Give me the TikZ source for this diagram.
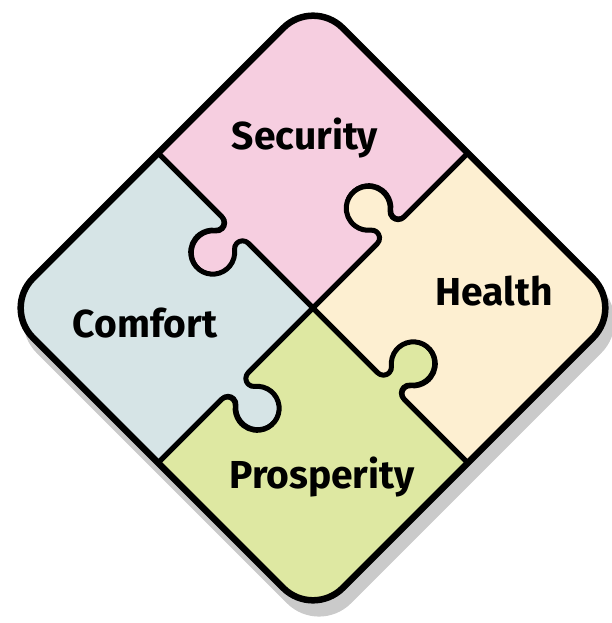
\documentclass[tikz,border=0pt]{standalone}
\usepackage{fontspec}
\setmainfont{Fira Sans}
\definecolor{securityPink}{HTML}{F6CEE0}
\definecolor{comfortBlue}{HTML}{D6E4E6}
\definecolor{prosperityGreen}{HTML}{DEE8A2}
\definecolor{healthCream}{HTML}{FDEFD1}
\definecolor{shadowGray}{HTML}{CACACA}
% one quarter of the square, the (+,+) quadrant before turning by 45 degrees
\newcommand{\piecepath}{(0,0) -- (91.7,0)
  arc[start angle=-90, end angle=51.4, radius=8pt]
  arc[start angle=231.4, end angle=-51.4, radius=22pt]
  arc[start angle=128.6, end angle=270, radius=8pt]
  -- (219,0) -- (219,177) arc[start angle=0, end angle=90, radius=42pt] -- (0,219)
  -- (0,128.3)
  arc[start angle=360, end angle=218.6, radius=8pt]
  arc[start angle=38.6, end angle=321.4, radius=22pt]
  arc[start angle=141.4, end angle=0, radius=8pt]
  -- cycle}
\begin{document}
\begin{tikzpicture}[x=1pt, y=1pt, pieceStyle/.style={draw, line width=5pt, line join=round}, borderStyle/.style={draw, line width=6.5pt, rounded corners=42pt}, labelStyle/.style={font=\fontsize{39}{43}\selectfont\bfseries}]
    \useasboundingbox (-313,-315) rectangle (298,308);

    % shadow
    \begin{scope}[shift={(6,-13)}, rotate=45]
        \draw[borderStyle, draw=shadowGray, fill=shadowGray] (-219,-219) rectangle (219,219);
    \end{scope}

    % pieces
    \begin{scope}[rotate=45]
        \draw[pieceStyle, fill=securityPink] \piecepath;
        \draw[pieceStyle, fill=comfortBlue, rotate=90] \piecepath;
        \draw[pieceStyle, fill=prosperityGreen, rotate=180] \piecepath;
        \draw[pieceStyle, fill=healthCream, rotate=270] \piecepath;
        \draw[borderStyle] (-219,-219) rectangle (219,219);
    \end{scope}

    \node[labelStyle] (security)   at (-8, 170)   {Security};
    \node[labelStyle] (health)     at (181, 17)   {Health};
    \node[labelStyle] (comfort)    at (-168, -15) {Comfort};
    \node[labelStyle] (prosperity) at (9, -169)   {Prosperity};
\end{tikzpicture}
\end{document}
